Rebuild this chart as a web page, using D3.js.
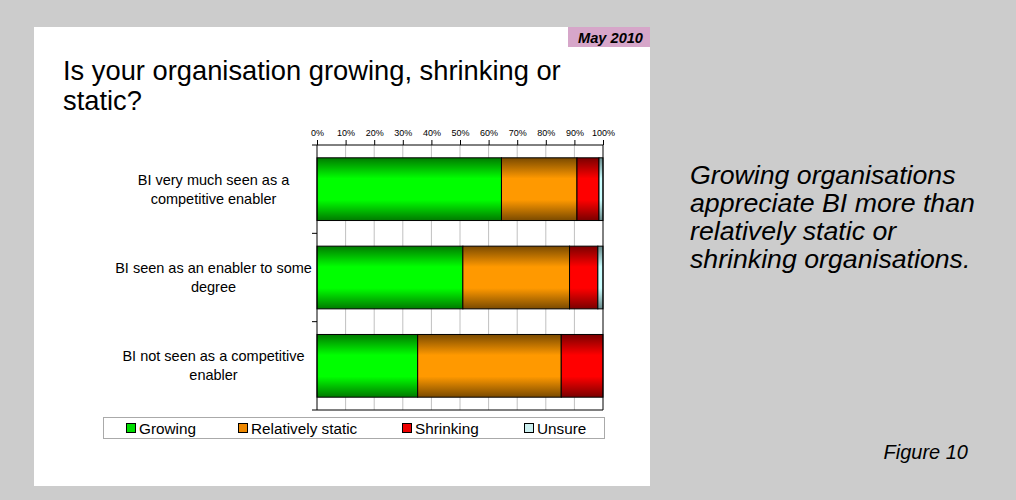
<!DOCTYPE html>
<html>
<head>
<meta charset="utf-8">
<script src="https://cdn.jsdelivr.net/npm/d3@7"></script>
<style>
  body { margin: 0; background: #cccccc; }
  svg { display: block; font-family: "Liberation Sans", Arial, sans-serif; }
</style>
</head>
<body>
<script>
const categories = [
    ["BI very much seen as a", "competitive enabler"],
    ["BI seen as an enabler to some", "degree"],
    ["BI not seen as a competitive", "enabler"]
];
const seriesNames = ["Growing", "Relatively static", "Shrinking", "Unsure"];
const growing = [64.5, 51.0, 35.2];
const relativelyStatic = [26.4, 37.3, 50.2];
const shrinking = [7.7, 9.9, 14.6];
const unsure = [1.4, 1.8, 0];
const tickValues = [0, 10, 20, 30, 40, 50, 60, 70, 80, 90, 100];

const colors = {
    "Growing": { dark: "#007a00", light: "#00ff00", swatch: "#00dd00" },
    "Relatively static": { dark: "#7a4a00", light: "#ff9900", swatch: "#ee8800" },
    "Shrinking": { dark: "#7a0000", light: "#ff0000", swatch: "#ee0000" },
    "Unsure": { dark: "#6a8a8a", light: "#ccffff", swatch: "#ccf0f0" }
};

const width = 1016, height = 500;

const svg = d3.select("body")
    .append("svg")
    .attr("width", width)
    .attr("height", height);

// panel
svg.append("rect")
    .attr("x", 34).attr("y", 27)
    .attr("width", 616).attr("height", 459)
    .attr("fill", "#ffffff");

svg.append("rect")
    .attr("x", 568).attr("y", 27)
    .attr("width", 82).attr("height", 20)
    .attr("fill", "#d6a6c9");

svg.append("text")
    .attr("x", 643).attr("y", 43)
    .attr("text-anchor", "end")
    .attr("font-size", 14.6).attr("font-weight", "bold").attr("font-style", "italic")
    .text("May 2010");

const title = svg.append("text")
    .attr("font-size", 27.3)
    .attr("fill", "#000");
title.append("tspan").attr("x", 63).attr("y", 80).text("Is your organisation growing, shrinking or");
title.append("tspan").attr("x", 63).attr("y", 110).text("static?");

// gradients
const defs = svg.append("defs");
seriesNames.forEach((s, i) => {
    const g = defs.append("linearGradient")
        .attr("id", "grad" + i)
        .attr("x1", 0).attr("y1", 0).attr("x2", 0).attr("y2", 1);
    g.append("stop").attr("offset", "0%").attr("stop-color", colors[s].dark);
    g.append("stop").attr("offset", "33%").attr("stop-color", colors[s].light);
    g.append("stop").attr("offset", "67%").attr("stop-color", colors[s].light);
    g.append("stop").attr("offset", "100%").attr("stop-color", colors[s].dark);
});

const plot = { left: 317, right: 603, top: 145, bottom: 410 };

const x = d3.scaleLinear()
    .domain([0, 100])
    .range([plot.left, plot.right]);

const y = d3.scaleBand()
    .domain(d3.range(categories.length))
    .range([plot.top, plot.bottom])
    .paddingInner(0.29)
    .paddingOuter(0.145);

// gridlines
svg.append("g")
    .selectAll("line")
    .data(tickValues.slice(1, -1))
    .enter()
    .append("line")
    .attr("x1", d => x(d)).attr("x2", d => x(d))
    .attr("y1", plot.top).attr("y2", plot.bottom)
    .attr("stroke", "#c0c0c0")
    .attr("stroke-width", 1);

// stacked bars
const rows = categories.map((c, i) => ({
    i: i,
    "Growing": growing[i],
    "Relatively static": relativelyStatic[i],
    "Shrinking": shrinking[i],
    "Unsure": unsure[i]
}));
const stacked = d3.stack().keys(seriesNames)(rows);

svg.append("g")
    .selectAll("g")
    .data(stacked)
    .enter()
    .append("g")
    .attr("fill", (d, i) => "url(#grad" + i + ")")
    .selectAll("rect")
    .data(d => d.filter(p => p[1] - p[0] > 0))
    .enter()
    .append("rect")
    .attr("x", d => x(d[0]))
    .attr("y", d => y(d.data.i))
    .attr("width", d => x(d[1]) - x(d[0]))
    .attr("height", y.bandwidth())
    .attr("stroke", "#000")
    .attr("stroke-width", 1);

// top axis
const xAxis = svg.append("g")
    .attr("transform", "translate(0," + plot.top + ")")
    .call(d3.axisTop(x).tickValues(tickValues).tickSize(5).tickFormat(d => d + "%"));
xAxis.selectAll("text").attr("font-size", 9).attr("fill", "#000").attr("dy", "-1");
xAxis.selectAll("line, path").attr("stroke", "#000");
xAxis.select(".domain").attr("d", "M" + plot.left + ",0H" + plot.right);

// right and bottom border
svg.append("line")
    .attr("x1", plot.right).attr("x2", plot.right)
    .attr("y1", plot.top).attr("y2", plot.bottom)
    .attr("stroke", "#000");
svg.append("line")
    .attr("x1", plot.left).attr("x2", plot.right)
    .attr("y1", plot.bottom).attr("y2", plot.bottom)
    .attr("stroke", "#000");

// left axis with ticks at band boundaries
const step = y.step();
const boundaries = d3.range(categories.length + 1).map(k => plot.top + k * step);
svg.append("line")
    .attr("x1", plot.left).attr("x2", plot.left)
    .attr("y1", plot.top).attr("y2", plot.bottom)
    .attr("stroke", "#000");
svg.append("g")
    .selectAll("line")
    .data(boundaries)
    .enter()
    .append("line")
    .attr("x1", plot.left - 5).attr("x2", plot.left)
    .attr("y1", d => d).attr("y2", d => d)
    .attr("stroke", "#000");

// category labels
const labels = svg.append("g")
    .selectAll("text")
    .data(categories)
    .enter()
    .append("text")
    .attr("font-size", 14.5)
    .attr("text-anchor", "middle")
    .attr("fill", "#000");
labels.each(function (d, i) {
    const cy = y(i) + y.bandwidth() / 2;
    const t = d3.select(this);
    d.forEach((line, k) => {
        t.append("tspan")
            .attr("x", 213.5)
            .attr("y", cy + (k - (d.length - 1) / 2) * 19 + 5)
            .text(line);
    });
});

// legend
svg.append("rect")
    .attr("x", 103.5).attr("y", 417.5)
    .attr("width", 501).attr("height", 21)
    .attr("fill", "#fff")
    .attr("stroke", "#555")
    .attr("stroke-dasharray", "1,1");

const legendX = [126, 238, 402, 524];
const legend = svg.append("g")
    .selectAll("g")
    .data(seriesNames)
    .enter()
    .append("g")
    .attr("transform", (d, i) => "translate(" + legendX[i] + ",428)");
legend.append("rect")
    .attr("x", 0.5).attr("y", -4.5)
    .attr("width", 9).attr("height", 9)
    .attr("fill", d => colors[d].swatch)
    .attr("stroke", "#000");
legend.append("text")
    .attr("x", 13).attr("y", 5.5)
    .attr("font-size", 15.3)
    .text(d => d);

// side note
const note = svg.append("text")
    .attr("font-size", 26.7)
    .attr("font-style", "italic")
    .attr("fill", "#000");
["Growing organisations", "appreciate BI more than", "relatively static or", "shrinking organisations."]
    .forEach((line, k) => {
        note.append("tspan").attr("x", 690).attr("y", 184 + k * 28).text(line);
    });

svg.append("text")
    .attr("x", 968).attr("y", 459)
    .attr("text-anchor", "end")
    .attr("font-size", 20)
    .attr("font-style", "italic")
    .text("Figure 10");
</script>
</body>
</html>
